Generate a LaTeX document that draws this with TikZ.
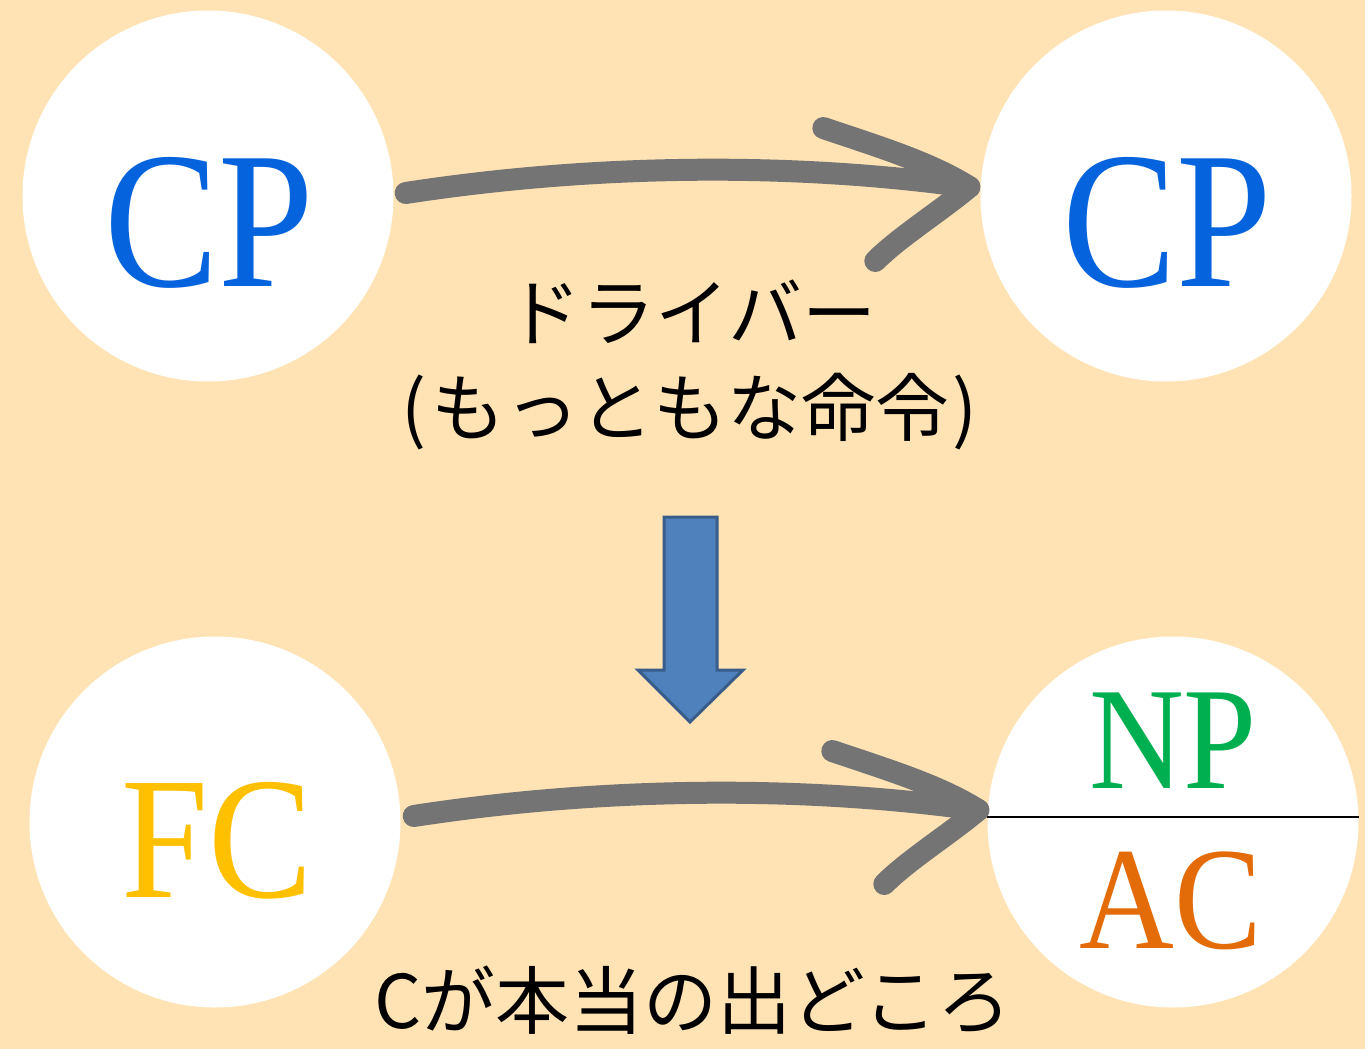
\documentclass[tikz,border=0pt]{standalone}
\usepackage{fontspec}
\setmainfont{Liberation Serif}
\newfontfamily\jp{Noto Sans CJK JP}
\usetikzlibrary{calc}
\definecolor{bgc}{RGB}{255,227,180}
\definecolor{cpblue}{RGB}{5,99,221}
\definecolor{fcyel}{RGB}{255,192,0}
\definecolor{npgreen}{RGB}{0,176,80}
\definecolor{acorange}{RGB}{227,108,9}
\definecolor{handgray}{RGB}{116,116,116}
\definecolor{blkfill}{RGB}{79,129,189}
\definecolor{blkedge}{RGB}{56,93,138}
\begin{document}
\begin{tikzpicture}[x=1pt,y=-1pt,
  bubble/.style={circle,fill=white,minimum size=371pt,inner sep=0pt},
  bigtext/.style={anchor=base,inner sep=0pt,font=\fontsize{195}{195}\selectfont},
  midtext/.style={anchor=base,inner sep=0pt,font=\fontsize{174}{174}\selectfont},
  smalltext/.style={anchor=base,inner sep=0pt,font=\fontsize{146}{146}\selectfont},
  jptext/.style={anchor=base,inner sep=0pt,font=\jp\fontsize{74}{74}\selectfont},
  handarrow/.style={draw=handgray,line width=22pt,line cap=round,line join=round},
  blockarrow/.style={fill=blkfill,draw=blkedge,line width=3pt,line join=miter}]
\fill[bgc] (0,0) rectangle (1365,1049);
\useasboundingbox (0,0) rectangle (1365,1049);
% circles
\node[bubble] (tl) at (208,196) {};
\node[bubble] (tr) at (1166,196) {};
\node[bubble] (bl) at (215,822) {};
\node[bubble] (br) at (1173,822) {};
% labels
\node[bigtext,text=cpblue] (tlt) at (209,286) {\scalebox{0.88}[1]{CP}};
\node[bigtext,text=cpblue] (trt) at (1167,286) {\scalebox{0.88}[1]{CP}};
\node[midtext,text=fcyel] (blt) at (217,897) {\scalebox{0.9}[1]{FC}};
\node[smalltext,text=npgreen] (npt) at (1173,788) {\scalebox{0.9}[1]{NP}};
\node[smalltext,text=acorange] (act) at (1171,948) {\scalebox{0.9}[1]{AC}};
\draw[line width=2pt] ([yshift=5pt]br.west) -- ([yshift=5pt]br.east);
% Japanese text
\node[jptext] (drv) at (692,340) {ドライバー};
\node[jptext] (mot) at (690,435) {(\hspace{4pt}もっともな命令\hspace{4pt})};
\node[jptext] (hon) at (693,1028) {Cが本当の出どころ};
% top hand-drawn arrow
\coordinate (tip1) at ([shift={(-11,-9)}]tr.west);
\draw[handarrow] ([shift={(12,-3)}]tl.east) .. controls +(195,-30) and +(-170,-24) .. (tip1);
\draw[handarrow] ($(tip1)+(-146,-59)$) .. controls ($(tip1)+(-90,-40)$) and ($(tip1)+(-40,-25)$) .. (tip1)
  .. controls ($(tip1)+(-30,25)$) and ($(tip1)+(-70,50)$) .. ($(tip1)+(-94,74)$);
% bottom hand-drawn arrow
\coordinate (tip2) at ([shift={(-9,-12)}]br.west);
\draw[handarrow] ([shift={(13,-6)}]bl.east) .. controls +(195,-30) and +(-170,-24) .. (tip2);
\draw[handarrow] ($(tip2)+(-146,-59)$) .. controls ($(tip2)+(-90,-40)$) and ($(tip2)+(-40,-25)$) .. (tip2)
  .. controls ($(tip2)+(-30,25)$) and ($(tip2)+(-70,50)$) .. ($(tip2)+(-94,74)$);
% block arrow
\coordinate (ba) at (690,517);
\draw[blockarrow] ($(ba)+(-26,0)$) -- ($(ba)+(27,0)$) -- ($(ba)+(27,153)$) -- ($(ba)+(53,153)$)
  -- ($(ba)+(0,205)$) -- ($(ba)+(-52,153)$) -- ($(ba)+(-26,153)$) -- cycle;
\end{tikzpicture}
\end{document}
